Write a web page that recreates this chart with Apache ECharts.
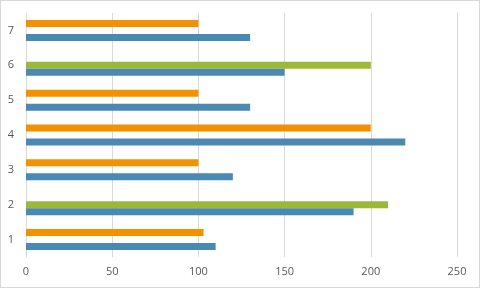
<!DOCTYPE html>
<html>
<head>
<meta charset="utf-8">
<script src="https://cdn.jsdelivr.net/npm/echarts@6/dist/echarts.min.js"></script>
<style>
  html, body { margin: 0; padding: 0; background: #fff; }
  #chart { width: 478px; height: 286px; border: 1px solid #d9d9d9; }
</style>
</head>
<body>
<div id="chart"></div>
<script>
var categories = ['1', '2', '3', '4', '5', '6', '7'];
var blueValues = [110, 190, 120, 220, 130, 150, 130];
var greenValues = [null, 210, null, null, null, 200, null];
var orangeValues = [103, null, 100, 200, 100, null, 100];
var xTicks = [0, 50, 100, 150, 200, 250];

var chart = echarts.init(document.getElementById('chart'));

function barSeries(name, data, color) {
  return {
    name: name,
    type: 'bar',
    data: data,
    barWidth: 7,
    barGap: '0%',
    barCategoryGap: '40%',
    itemStyle: { color: color },
    silent: true
  };
}

var option = {
  animation: false,
  grid: { left: 25, right: 22, top: 12, bottom: 30 },
  xAxis: {
    type: 'value',
    min: xTicks[0],
    max: xTicks[xTicks.length - 1],
    interval: 50,
    axisLine: { show: false },
    axisTick: { show: false },
    splitLine: { lineStyle: { color: '#d9d9d9' } },
    axisLabel: { color: '#595959', fontFamily: 'Open Sans', fontSize: 11, margin: 9 }
  },
  yAxis: {
    type: 'category',
    data: categories,
    axisLine: { lineStyle: { color: '#d9d9d9' } },
    axisTick: { show: false },
    axisLabel: { color: '#595959', fontFamily: 'Open Sans', fontSize: 11, margin: 12 }
  },
  // first series is drawn at the top of each band in ECharts
  series: [
    barSeries('s3', orangeValues, '#f39200'),
    barSeries('s2', greenValues, '#9cb83a'),
    barSeries('s1', blueValues, '#4a89b2')
  ]
};

chart.setOption(option);
</script>
</body>
</html>
